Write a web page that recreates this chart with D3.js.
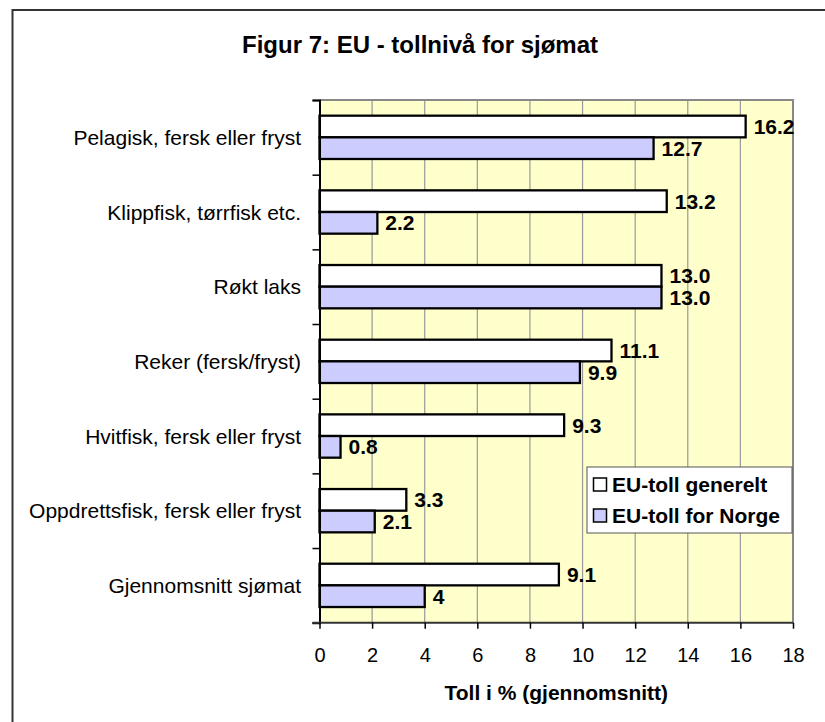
<!DOCTYPE html>
<html>
<head>
<meta charset="utf-8">
<script src="https://cdn.jsdelivr.net/npm/d3@7.9.0/dist/d3.min.js"></script>
<style>
  body { margin: 0; background: #fff; }
  svg { display: block; font-family: Arial, "Liberation Sans", sans-serif; }
</style>
</head>
<body>
<svg id="chart" width="825" height="722"></svg>
<script>
// data
const categories = [
    'Pelagisk, fersk eller fryst',
    'Klippfisk, tørrfisk etc.',
    'Røkt laks',
    'Reker (fersk/fryst)',
    'Hvitfisk, fersk eller fryst',
    'Oppdrettsfisk, fersk eller fryst',
    'Gjennomsnitt sjømat'
];
const generelt = [16.2, 13.2, 13.0, 11.1, 9.3, 3.3, 9.1];
const norge = [12.7, 2.2, 13.0, 9.9, 0.8, 2.1, 4];
const genereltLabels = ['16.2', '13.2', '13.0', '11.1', '9.3', '3.3', '9.1'];
const norgeLabels = ['12.7', '2.2', '13.0', '9.9', '0.8', '2.1', '4'];
const seriesNames = ['EU-toll generelt', 'EU-toll for Norge'];
const seriesColors = ['#ffffff', '#ccccff'];
const xTicks = [0, 2, 4, 6, 8, 10, 12, 14, 16, 18];

const svg = d3.select('#chart');

// outer frame (runs past the right and bottom edge)
svg.append('rect')
    .attr('x', 12.5).attr('y', 10)
    .attr('width', 830).attr('height', 730)
    .attr('fill', 'none').attr('stroke', '#333').attr('stroke-width', 2);

// title
svg.append('text')
    .attr('x', 420).attr('y', 53)
    .attr('text-anchor', 'middle')
    .attr('font-size', 24).attr('font-weight', 'bold')
    .text('Figur 7: EU - tollnivå for sjømat');

const plotL = 319.5, plotR = 793, plotT = 100, plotB = 622.7;

let x = d3.scaleLinear().domain([0, 18]).range([plotL, plotR]);
let y = d3.scaleBand().domain(categories).range([plotT, plotB])
    .paddingInner(0.42).paddingOuter(0.21);
let ySub = d3.scaleBand().domain([0, 1]).range([0, y.bandwidth()]);

// plot area
svg.append('rect')
    .attr('x', plotL).attr('y', plotT)
    .attr('width', plotR - plotL).attr('height', plotB - plotT)
    .attr('fill', '#ffffcc');

// gridlines
svg.append('g')
    .selectAll('line')
    .data(xTicks.slice(1))
    .join('line')
    .attr('x1', (d) => x(d)).attr('x2', (d) => x(d))
    .attr('y1', plotT).attr('y2', plotB)
    .attr('stroke', '#999').attr('stroke-width', 1.2);

// plot border top/right
svg.append('path')
    .attr('d', `M${plotL},${plotT}H${plotR}V${plotB}`)
    .attr('fill', 'none').attr('stroke', '#888').attr('stroke-width', 2);

// bars
const series = [generelt, norge];
const seriesLabels = [genereltLabels, norgeLabels];
series.forEach((values, s) => {
    let g = svg.append('g');
    g.selectAll('rect')
        .data(values)
        .join('rect')
        .attr('x', x(0))
        .attr('y', (d, i) => y(categories[i]) + ySub(s))
        .attr('width', (d) => x(d) - x(0))
        .attr('height', ySub.bandwidth())
        .attr('fill', seriesColors[s])
        .attr('stroke', '#000').attr('stroke-width', 2.3);
    g.selectAll('text')
        .data(values)
        .join('text')
        .attr('x', (d) => x(d) + 8)
        .attr('y', (d, i) => y(categories[i]) + ySub(s) + ySub.bandwidth() / 2)
        .attr('dy', '0.36em')
        .attr('font-size', 21).attr('font-weight', 'bold')
        .text((d, i) => seriesLabels[s][i]);
});

// y axis
let yAxis = d3.axisLeft(d3.scaleLinear().domain([0, 7]).range([plotT, plotB]))
    .ticks(7).tickSize(7).tickFormat('');
let yG = svg.append('g').attr('transform', `translate(${plotL},0)`).call(yAxis);
yG.select('.domain').attr('stroke', '#000').attr('stroke-width', 2);
yG.selectAll('.tick line').attr('stroke', '#000').attr('stroke-width', 1.5);

svg.append('g')
    .selectAll('text')
    .data(categories)
    .join('text')
    .attr('x', 301)
    .attr('y', (d) => y(d) + y.bandwidth() / 2)
    .attr('dy', '0.36em')
    .attr('text-anchor', 'end')
    .attr('font-size', 21)
    .text((d) => d);

// x axis
let xAxis = d3.axisBottom(x).tickValues(xTicks).tickSize(6).tickPadding(19).tickSizeOuter(0);
let xG = svg.append('g').attr('transform', `translate(0,${plotB})`).call(xAxis);
xG.select('.domain').attr('stroke', '#333').attr('stroke-width', 2)
    .attr('d', `M${plotL - 7},0H${plotR}`);
xG.selectAll('.tick line').attr('stroke', '#000').attr('stroke-width', 1.5);
xG.selectAll('.tick text')
    .attr('font-size', 20).attr('fill', '#000')
    .attr('font-family', 'Arial, "Liberation Sans", sans-serif');

svg.append('text')
    .attr('x', (plotL + plotR) / 2).attr('y', 700)
    .attr('text-anchor', 'middle')
    .attr('font-size', 21).attr('font-weight', 'bold')
    .text('Toll i % (gjennomsnitt)');

// legend
let legend = svg.append('g').attr('transform', 'translate(587,467)');
legend.append('rect')
    .attr('width', 205).attr('height', 66)
    .attr('fill', '#fff').attr('stroke', '#555').attr('stroke-width', 1);
seriesNames.forEach((name, i) => {
    legend.append('rect')
        .attr('x', 6.5).attr('y', 11 + i * 31)
        .attr('width', 13).attr('height', 13)
        .attr('fill', seriesColors[i]).attr('stroke', '#000').attr('stroke-width', 1.5);
    legend.append('text')
        .attr('x', 25).attr('y', 25 + i * 31)
        .attr('font-size', 21).attr('font-weight', 'bold')
        .text(name);
});
</script>
</body>
</html>
